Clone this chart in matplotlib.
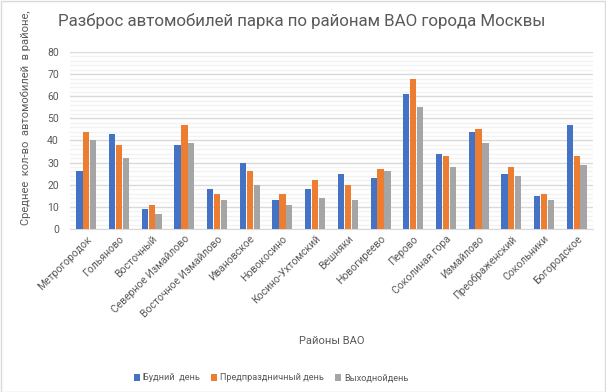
import numpy as np
import matplotlib.pyplot as plt
from matplotlib.patches import Rectangle

# районы и значения по трём типам дней
rajony = ['Метрогородок', 'Гольяново', 'Восточный', 'Северное Измайлово',
          'Восточное Измайлово', 'Ивановское', 'Новокосино', 'Косино-Ухтомский',
          'Вешняки', 'Новогиреево', 'Перово', 'Соколиная гора', 'Измайлово',
          'Преображенский', 'Сокольники', 'Богородское']
budni = [26, 43, 9, 38, 18, 30, 13, 18, 25, 23, 61, 34, 44, 25, 15, 47]
predprazd = [44, 38, 11, 47, 16, 26, 16, 22, 20, 27, 68, 33, 45, 28, 16, 33]
vyhodnoj = [40, 32, 7, 39, 13, 20, 11, 14, 13, 26, 55, 28, 39, 24, 13, 29]
serie_names = ['Будний  день', 'Предпраздничный день', 'Выходнойдень']

plt.rcParams['font.family'] = ['Roboto', 'DejaVu Sans']
txt = '#595959'

fig = plt.figure(figsize=(6.06, 3.92), dpi=100)
fig.patches.append(Rectangle((0.001, 0.001), 0.997, 0.997, transform=fig.transFigure,
                             fill=False, edgecolor='#D9D9D9', lw=1))
ax = fig.add_axes([70/606, 1-229/392, 523/606, 177/392])

x = np.arange(len(rajony))
w = 0.19
colors = ['#4472C4', '#ED7D31', '#A5A5A5']
for i, (vals, c) in enumerate(zip([budni, predprazd, vyhodnoj], colors)):
    ax.bar(x + (i-1)*0.21, vals, w, color=c, label=serie_names[i], zorder=3)

ax.set_xlim(-0.5, len(rajony)-0.5)
ax.set_ylim(0, 80)
ax.set_yticks(range(0, 81, 10))
ax.set_yticks(range(0, 81, 2), minor=True)
ax.grid(axis='y', which='major', color='#D9D9D9', lw=1, zorder=0)
ax.grid(axis='y', which='minor', color='#F2F2F2', lw=1, zorder=0)
for s in ['top', 'right', 'left']:
    ax.spines[s].set_visible(False)
ax.spines['bottom'].set_color('#D9D9D9')
ax.tick_params(axis='both', which='both', length=0, colors=txt, labelsize=7.5)
ax.tick_params(axis='y', pad=8)
ax.set_xticks(x)
ax.set_xticklabels(rajony, rotation=45, ha='right', rotation_mode='anchor')

ax.set_xlabel('Районы ВАО', color=txt, fontsize=8, labelpad=12)
fig.text(0.042, 0.70, 'Среднее  кол-во  автомобилей  в районе,', rotation=90,
         ha='center', va='center', color=txt, fontsize=8)
fig.text(58/606, 1-21/392, 'Разброс автомобилей парка по районам ВАО города Москвы',
         ha='left', va='center', color=txt, fontsize=12.2)

fig.legend(loc='center', bbox_to_anchor=(0.447, 1-378/392), ncol=3, frameon=False,
           fontsize=6.6, handlelength=0.7, handleheight=0.7, handletextpad=0.3,
           columnspacing=1.2, labelcolor=txt)

fig.savefig('out.png', dpi=100)
